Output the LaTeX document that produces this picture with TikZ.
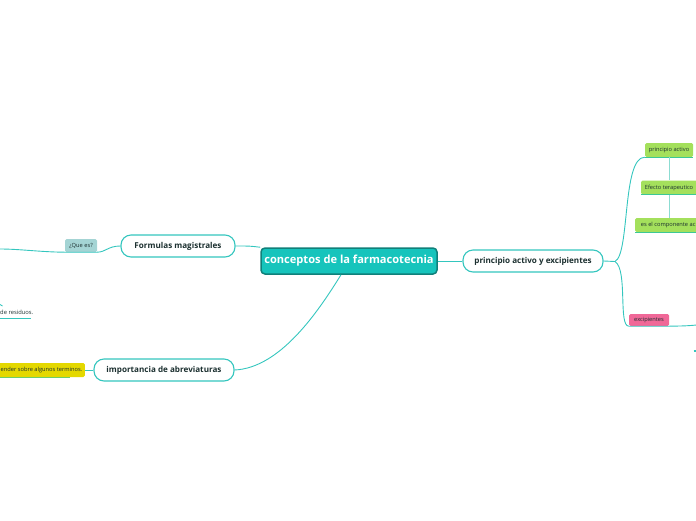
\documentclass[tikz,border=0pt]{standalone}
\usepackage{fontspec}
\setmainfont{Open Sans}
\definecolor{tealline}{RGB}{52,198,190}
\definecolor{tealfill}{RGB}{22,196,188}
\definecolor{tealdark}{RGB}{16,128,122}
\definecolor{darktext}{RGB}{28,48,48}
\definecolor{greenfill}{RGB}{164,224,92}
\definecolor{greenline}{RGB}{60,200,150}
\definecolor{pinkfill}{RGB}{240,104,152}
\definecolor{grayfill}{RGB}{164,212,212}
\definecolor{yellowfill}{RGB}{228,216,0}
\definecolor{vline}{RGB}{140,220,210}
\tikzset{
  conn/.style={draw=tealline, line width=0.9pt},
  topic/.style={draw=tealline, line width=1.1pt, fill=white, rounded corners=10pt,
    font=\bfseries\fontsize{8.1}{9}\selectfont, text=darktext, minimum height=22pt, inner sep=0pt},
  central/.style={draw=tealdark, line width=1.5pt, fill=tealfill, rounded corners=4pt,
    font=\bfseries\fontsize{11.1}{13}\selectfont, text=white, minimum height=26pt, minimum width=176pt, inner sep=0pt},
  small/.style={rounded corners=1.5pt, font=\fontsize{5.7}{6}\selectfont, text=darktext,
    minimum height=14pt, inner xsep=2.5pt, inner ysep=0pt},
}
\begin{document}
\begin{tikzpicture}[x=1pt,y=-1pt]
\useasboundingbox (0,0) rectangle (696,520);
\clip (0,0) rectangle (696,520);
% main topics
\node[central] (c) at (349,261) {conceptos de la farmacotecnia};
\node[topic, minimum width=114pt] (f) at (178,246) {Formulas magistrales};
\node[topic, minimum width=140pt] (i) at (164,370) {importancia de abreviaturas};
\node[topic, minimum width=140pt] (p) at (533,261) {principio activo y excipientes};
% left side
\node[small, fill=grayfill, minimum width=32pt, minimum height=13pt] (q) at (81,245.5) {¿Que es?};
\node[small, anchor=east, fill=yellowfill, minimum height=14pt] (y) at (85,370) {ender sobre algunos terminos.};
\node[font=\fontsize{5.8}{6}\selectfont, text=darktext, anchor=west, inner sep=0pt] (r) at (0,312) {de residuos.};
% right side
\node[small, fill=greenfill, minimum width=48pt] (pa) at (669,150) {principio activo};
\node[small, fill=greenfill, minimum width=56pt] (ef) at (669,187.5) {Efecto terapeutico};
\node[small, fill=greenfill, anchor=west, minimum width=66pt] (ec) at (635,225) {es el componente ac};
\node[small, fill=pinkfill, minimum width=40pt, minimum height=12pt] (ex) at (649,320) {excipientes};
% coordinates at free ends
\coordinate (qleft) at (0,249);
\coordinate (rl) at (0,318);
\coordinate (rr) at (31,318);
\coordinate (tick1) at (0,304.5);
\coordinate (tick2) at (2.5,306);
\coordinate (yl) at (0,377);
\coordinate (yr) at (70,377);
\coordinate (j) at (615,261.5);
\coordinate (exend) at (700,324.5);
\coordinate (dot1) at (693.5,351);
\coordinate (dot2) at (697,351);
% connectors
\draw[conn] (f.east) .. controls (250,246) .. (c.north west);
\path (c.south) ++(-8,0) coordinate (cb);
\draw[conn] (cb) .. controls (318,312) and (280,368) .. (i.east);
\draw[conn] (c.east) -- (p.west);
\draw[conn] (f.west) .. controls (108,246) and (106,252) .. (q.south east);
\draw[conn] (q.south east) -- (q.south west) .. controls (40,252) and (20,249) .. (qleft);
\draw[conn] (rl) -- (rr);
\draw[conn] (tick1) -- (tick2);
\draw[conn] (y.east) -- (i.west);
\draw[draw=greenline!70!yellowfill, line width=0.9pt] (yl) -- (yr);
\draw[conn] (p.east) -- (j);
\draw[conn] (j) .. controls (630,254) and (622,157) .. (pa.south west);
\draw[conn] (j) .. controls (628,270) and (618,326) .. (ex.south west);
\draw[conn] (ex.south west) -- (ex.south east) .. controls (680,326) and (690,326) .. (exend);
\draw[conn, line width=1.5pt] (dot1) -- (dot2);
\draw[draw=greenline, line width=0.8pt] (pa.south west) -- (pa.south east);
\draw[draw=greenline, line width=0.8pt] (ef.south west) -- (ef.south east);
\draw[draw=greenline, line width=0.8pt] (ec.south west) -- (ec.south east);
\draw[draw=vline, line width=0.8pt] (pa.south) -- (ef.north);
\draw[draw=vline, line width=0.8pt] (ef.south) -- (ec.north -| ef.south);
\end{tikzpicture}
\end{document}
